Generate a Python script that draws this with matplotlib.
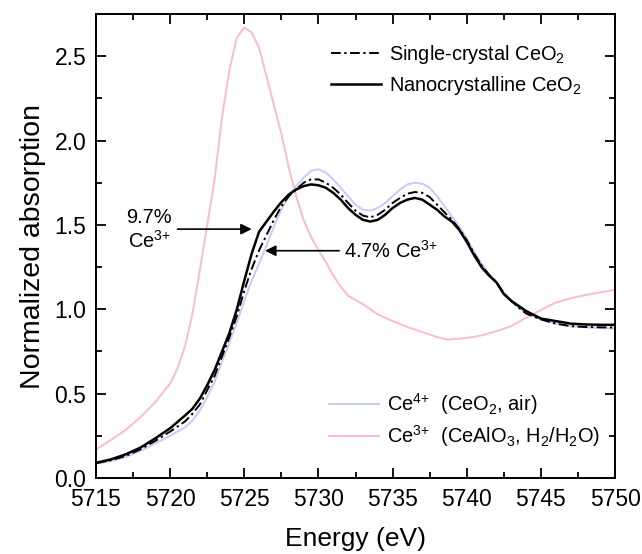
import numpy as np
import matplotlib
matplotlib.use("Agg")
import matplotlib.pyplot as plt
from matplotlib.lines import Line2D
from matplotlib.ticker import MultipleLocator

plt.rcParams['font.family'] = ['Liberation Sans', 'DejaVu Sans']
plt.rcParams['mathtext.fontset'] = 'custom'
plt.rcParams['mathtext.rm'] = 'Liberation Sans'
plt.rcParams['mathtext.it'] = 'Liberation Sans:italic'

# --- data ---
energy = [5715, 5716, 5717, 5718, 5719, 5720, 5721,
          5721.5, 5722, 5722.5, 5723, 5723.5, 5724, 5724.5, 5725, 5725.5, 5726,
          5726.5, 5727, 5727.5, 5728, 5728.5, 5729, 5729.5, 5730, 5730.5, 5731,
          5731.5, 5732, 5732.5, 5733, 5733.5, 5734, 5734.5, 5735, 5735.5, 5736,
          5736.5, 5737, 5737.5, 5738, 5738.5, 5739, 5739.5, 5740, 5740.5, 5741,
          5741.5, 5742, 5742.5, 5743, 5743.5,
          5744, 5745, 5746, 5747, 5748, 5749, 5750]

ce4_ref = [0.085, 0.10, 0.125, 0.16, 0.205, 0.25, 0.30,
           0.34, 0.40, 0.48, 0.57, 0.69, 0.80, 0.92, 1.05, 1.17, 1.27,
           1.38, 1.49, 1.59, 1.67, 1.73, 1.78, 1.82, 1.83, 1.81, 1.77,
           1.72, 1.67, 1.62, 1.59, 1.585, 1.60, 1.63, 1.67, 1.71, 1.74,
           1.75, 1.745, 1.72, 1.67, 1.61, 1.55, 1.49, 1.42, 1.34, 1.27,
           1.21, 1.16, 1.10, 1.05, 1.01,
           0.98, 0.94, 0.915, 0.90, 0.893, 0.889, 0.887]

single_crystal = [0.088, 0.105, 0.13, 0.17, 0.22, 0.275, 0.335,
                  0.38, 0.435, 0.52, 0.605, 0.72, 0.835, 0.96, 1.11, 1.24, 1.35,
                  1.44, 1.53, 1.61, 1.67, 1.71, 1.75, 1.77, 1.77, 1.75, 1.72,
                  1.68, 1.63, 1.585, 1.555, 1.545, 1.56, 1.59, 1.63, 1.66, 1.685,
                  1.695, 1.69, 1.665, 1.62, 1.575, 1.53, 1.475, 1.41, 1.33, 1.26,
                  1.205, 1.16, 1.095, 1.05, 1.01,
                  0.975, 0.94, 0.915, 0.90, 0.895, 0.893, 0.892]

nanocrystalline = [0.09, 0.11, 0.14, 0.18, 0.235, 0.295, 0.37,
                   0.41, 0.47, 0.55, 0.64, 0.75, 0.86, 1.00, 1.17, 1.33, 1.46,
                   1.52, 1.58, 1.635, 1.68, 1.71, 1.73, 1.74, 1.735, 1.72, 1.69,
                   1.65, 1.60, 1.56, 1.53, 1.52, 1.53, 1.56, 1.60, 1.63, 1.65,
                   1.66, 1.65, 1.62, 1.59, 1.55, 1.52, 1.47, 1.40, 1.32, 1.25,
                   1.20, 1.16, 1.09, 1.05, 1.02,
                   0.99, 0.945, 0.93, 0.915, 0.91, 0.908, 0.908]

energy_ce3 = [5715, 5716, 5717, 5718, 5719, 5720, 5720.5, 5721, 5721.5, 5722,
              5722.5, 5723, 5723.5, 5724, 5724.5, 5725, 5725.5, 5726, 5726.5,
              5727, 5727.5, 5728, 5728.5, 5729, 5729.5, 5730, 5730.5, 5731,
              5731.5, 5732, 5733, 5734, 5735, 5736, 5737, 5738, 5738.7, 5740,
              5741, 5742, 5743, 5744, 5745, 5746, 5747, 5748, 5749, 5750]
ce3_ref = [0.17, 0.225, 0.285, 0.36, 0.45, 0.56, 0.65, 0.78, 0.97, 1.23,
           1.50, 1.77, 2.14, 2.42, 2.61, 2.67, 2.64, 2.55, 2.38,
           2.21, 2.04, 1.84, 1.67, 1.53, 1.43, 1.35, 1.28, 1.20,
           1.135, 1.08, 1.03, 0.97, 0.93, 0.895, 0.865, 0.835, 0.82, 0.83,
           0.845, 0.87, 0.90, 0.95, 0.995, 1.04, 1.065, 1.085, 1.10, 1.115]

blue = '#c5cdf6'
pink = '#f9bccb'

fig = plt.figure(figsize=(6.42, 5.54), dpi=100)
ax = fig.add_axes([0.1495, 0.1372, 0.8085, 0.8375])

ax.plot(energy, ce4_ref, color=blue, lw=1.4)
ax.plot(energy_ce3, ce3_ref, color=pink, lw=1.4)
ax.plot(energy, single_crystal, color='k', lw=1.4, ls=(0, (5, 1.8, 1.2, 1.8)))
ax.plot(energy, nanocrystalline, color='k', lw=1.8)

ax.set_xlim(5715, 5750)
ax.set_ylim(0, 2.75)
ax.xaxis.set_major_locator(MultipleLocator(5))
ax.xaxis.set_minor_locator(MultipleLocator(2.5))
ax.yaxis.set_major_locator(MultipleLocator(0.5))
ax.yaxis.set_minor_locator(MultipleLocator(0.25))
ax.tick_params(which='both', direction='in', top=True, right=True, width=1.3)
ax.tick_params(which='major', length=7, labelsize=16.5, pad=7)
ax.tick_params(which='minor', length=4)
for s in ax.spines.values():
    s.set_linewidth(1.4)

ax.set_xlabel('Energy (eV)', fontsize=19, labelpad=12)
ax.set_ylabel('Normalized absorption', fontsize=20.5, labelpad=6)

# arrows and labels
arrow = dict(arrowstyle='-|>', color='k', lw=1.2, mutation_scale=16, shrinkA=0, shrinkB=0)
ax.annotate('', xy=(5725.5, 1.475), xytext=(5720.5, 1.475), arrowprops=arrow)
ax.text(5718.6, 1.47, '9.7%\nCe$^{\\text{3+}}$', fontsize=14.4, ha='center', va='center',
        linespacing=1.15)
ax.annotate('', xy=(5726.4, 1.347), xytext=(5731.4, 1.347), arrowprops=arrow)
ax.text(5731.7, 1.347, '4.7% Ce$^{\\text{3+}}$', fontsize=14.4, ha='left', va='center')

h_top = [Line2D([], [], color='k', lw=1.4, ls=(0, (5, 1.8, 1.2, 1.8))),
         Line2D([], [], color='k', lw=1.8)]
leg1 = ax.legend(h_top, ['Single-crystal CeO$_2$', 'Nanocrystalline CeO$_2$'],
                 loc='upper left', bbox_to_anchor=(0.452, 0.937), frameon=False,
                 fontsize=14.4, borderpad=0, borderaxespad=0, handlelength=2.5,
                 handletextpad=0.4, labelspacing=0.38)
ax.add_artist(leg1)

h_bot = [Line2D([], [], color=blue, lw=1.4), Line2D([], [], color=pink, lw=1.4)]
ax.legend(h_bot, ['Ce$^{\\text{4+}}$  (CeO$_2$, air)',
                  'Ce$^{\\text{3+}}$  (CeAlO$_3$, H$_2$/H$_2$O)'],
          loc='upper left', bbox_to_anchor=(0.448, 0.187), frameon=False,
          fontsize=14.4, borderpad=0, borderaxespad=0, handlelength=2.5,
          handletextpad=0.4, labelspacing=0.32)

fig.savefig('out.png', dpi=100)
